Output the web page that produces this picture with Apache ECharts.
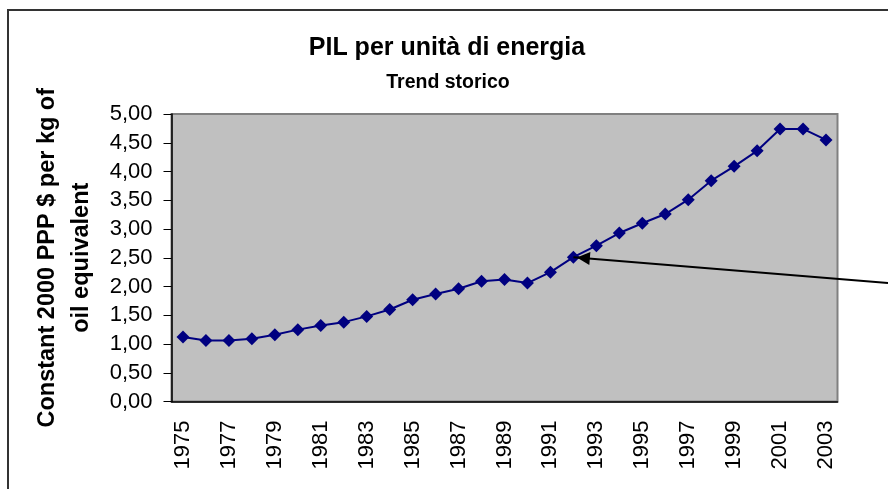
<!DOCTYPE html>
<html>
<head>
<meta charset="UTF-8">
<script src="https://cdn.jsdelivr.net/npm/echarts@6/dist/echarts.min.js"></script>
<style>
  html, body { margin: 0; padding: 0; background: #fff; }
  #main { width: 888px; height: 489px; }
</style>
</head>
<body>
<div id="main"></div>
<script>
// years on the x axis
var years = ['1975', '1976', '1977', '1978', '1979', '1980', '1981', '1982', '1983', '1984',
  '1985', '1986', '1987', '1988', '1989', '1990', '1991', '1992', '1993', '1994',
  '1995', '1996', '1997', '1998', '1999', '2000', '2001', '2002', '2003'];
// PIL per unità di energia (Constant 2000 PPP $ per kg of oil equivalent)
var pilValues = [1.12, 1.06, 1.06, 1.09, 1.16, 1.25, 1.32, 1.38, 1.48, 1.60,
  1.77, 1.87, 1.96, 2.09, 2.12, 2.06, 2.25, 2.51, 2.71, 2.93,
  3.10, 3.26, 3.51, 3.84, 4.09, 4.36, 4.74, 4.74, 4.55];
var arrowYear = '1992';

var font = 'Liberation Sans, Arial, sans-serif';
var chart = echarts.init(document.getElementById('main'));

chart.setOption({
  animation: false,
  title: [
    { text: 'PIL per unità di energia', left: 442, top: 31, textAlign: 'center',
      textStyle: { fontFamily: font, fontSize: 25, fontWeight: 'bold', color: '#000' } },
    { text: 'Trend storico', left: 443, top: 68, textAlign: 'center',
      textStyle: { fontFamily: font, fontSize: 19.5, fontWeight: 'bold', color: '#000' } }
  ],
  // outer chart frame
  graphic: [{
    type: 'rect', shape: { x: 8, y: 10, width: 1000, height: 1000 },
    style: { fill: 'none', stroke: '#333', lineWidth: 2 }
  }],
  grid: {
    left: 171.5, right: 50.5, top: 114, bottom: 87.5,
    show: true, backgroundColor: '#c0c0c0', borderColor: '#808080', borderWidth: 2
  },
  xAxis: {
    type: 'category',
    data: years,
    boundaryGap: true,
    axisLine: { lineStyle: { color: '#000', width: 1.5 } },
    axisTick: { interval: 0, length: 7, lineStyle: { color: '#000' } },
    axisLabel: { interval: 1, rotate: 90, margin: 19, fontFamily: font, fontSize: 22, color: '#000' }
  },
  yAxis: {
    type: 'value',
    min: 0, max: 5, interval: 0.5,
    name: 'Constant 2000 PPP $ per kg of\noil equivalent',
    nameLocation: 'middle',
    nameRotate: 90,
    nameGap: 72,
    nameTextStyle: { fontFamily: font, fontSize: 23.5, fontWeight: 'bold', color: '#000', lineHeight: 34 },
    splitLine: { show: false },
    axisLine: { show: true, lineStyle: { color: '#000', width: 1.5 } },
    axisTick: { show: true, length: 8, lineStyle: { color: '#000' } },
    axisLabel: {
      margin: 19, fontFamily: font, fontSize: 22, color: '#000',
      formatter: function (v) { return v.toFixed(2).replace('.', ','); }
    }
  },
  series: [{
    type: 'line',
    data: pilValues,
    clip: false,
    symbol: 'diamond',
    symbolSize: 13,
    lineStyle: { color: '#000080', width: 2 },
    itemStyle: { color: '#000080' },
    markLine: {
      silent: true,
      symbol: ['none', 'triangle'],
      symbolSize: [13, 13],
      symbolOffset: [0, [0, 10]],
      label: { show: false },
      lineStyle: { color: '#000', width: 2, type: 'solid' },
      data: [[
        { x: 888, y: 283 },
        { coord: [arrowYear, pilValues[years.indexOf(arrowYear)]] }
      ]]
    }
  }]
});
</script>
</body>
</html>
